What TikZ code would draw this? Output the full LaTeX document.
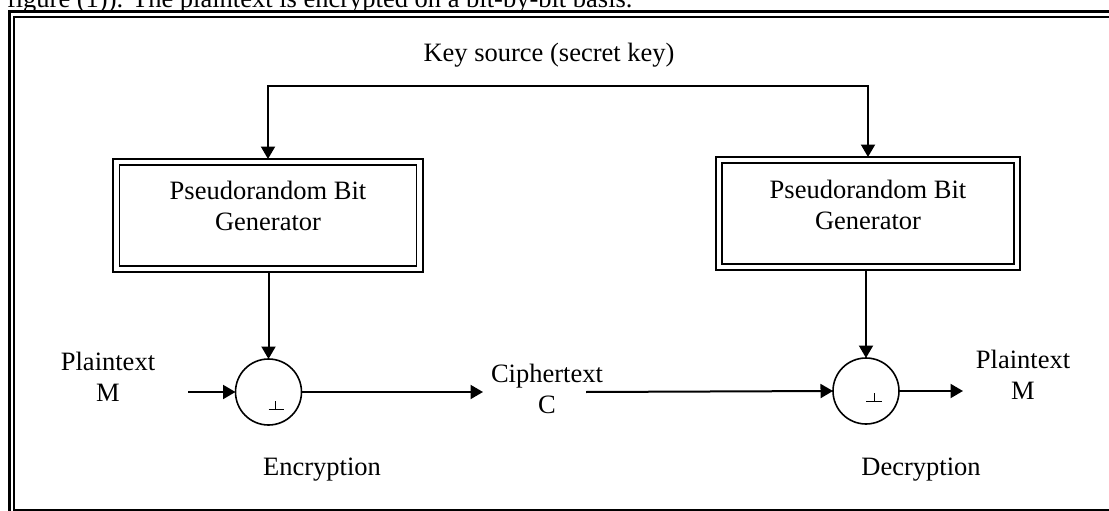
\documentclass[tikz,border=0pt]{standalone}
\usepackage{fontspec}
\setmainfont{Liberation Serif}
\usetikzlibrary{arrows.meta}
\begin{document}
\begin{tikzpicture}[x=1pt,y=-1pt,
  every node/.style={font=\fontsize{26.5}{31}\selectfont, inner sep=0pt, outer sep=0pt},
  txt/.style={anchor=base, align=center},
  arr/.style={line width=2pt, -{Triangle[length=12.5pt,width=14pt]}},
  outerbox/.style={draw, line width=2.4pt, minimum height=113pt},
  innerbox/.style={draw, line width=1.7pt, minimum height=101pt},
  xorc/.style={circle, draw, line width=1.6pt, minimum size=66pt},
  plusline/.style={line width=1pt}
]
\useasboundingbox (0,0) rectangle (1109,511);
\clip (0,0) rectangle (1109,511);

% clipped text line above the frame
\node[anchor=base west] (cap) at (7,8) {figure (1)). The plaintext is encrypted on a bit-by-bit basis.};

% outer frame
\draw[line width=3pt] (9.5,12) rectangle (1125,520);
\draw[line width=1.7pt] (14,17) rectangle (1118,510);

% key source
\node[txt] (key) at (549,62) {Key source (secret key)};
\coordinate (km) at (568,86);

% generators
\node[outerbox, minimum width=310pt] (lbx) at (268,215.5) {};
\node[innerbox, minimum width=297pt] (lb) at (lbx.center) {};
\node[txt] (lbt) at (268,230) {Pseudorandom Bit\\Generator};

\node[outerbox, minimum width=304pt] (rbx) at (868,213.5) {};
\node[innerbox, minimum width=292pt] (rb) at (rbx.center) {};
\node[txt] (rbt) at (868,229) {Pseudorandom Bit\\Generator};

\draw[arr] (km) -| (lbx.north);
\draw[arr] (km) -| (rbx.north);

% xor circles
\node[xorc] (c1) at (268.5,392) {};
\node[xorc] (c2) at (866,391) {};
\draw[plusline] ([shift={(7,9)}]c1.center) -- ++(0,9);
\draw[plusline] ([shift={(0,17.5)}]c1.center) -- ++(15,0);
\draw[plusline] ([shift={(8,2)}]c2.center) -- ++(0,9);
\draw[plusline] ([shift={(0,10.5)}]c2.center) -- ++(16,0);

\draw[arr] (c1.north |- lbx.south) -- (c1.north);
\draw[arr] (c2.north |- rbx.south) -- (c2.north);

% texts
\node[txt] (pl) at (108,401) {Plaintext\\M};
\node[txt] (ct) at (547,413) {Ciphertext\\C};
\node[txt] (pr) at (1023,399) {Plaintext\\M};
\node[txt] (enc) at (322,475) {Encryption};
\node[txt] (dec) at (921,475) {Decryption};

% horizontal flow
\coordinate (pin) at (188,392);
\coordinate (ctin) at (483,392);
\coordinate (ctout) at (586,392);
\coordinate (pout) at (963,391);
\draw[arr] (pin) -- (c1.west);
\draw[arr] (c1.east) -- (ctin);
\draw[arr] (ctout) -- (c2.west);
\draw[arr] (c2.east) -- (pout);
\end{tikzpicture}
\end{document}
